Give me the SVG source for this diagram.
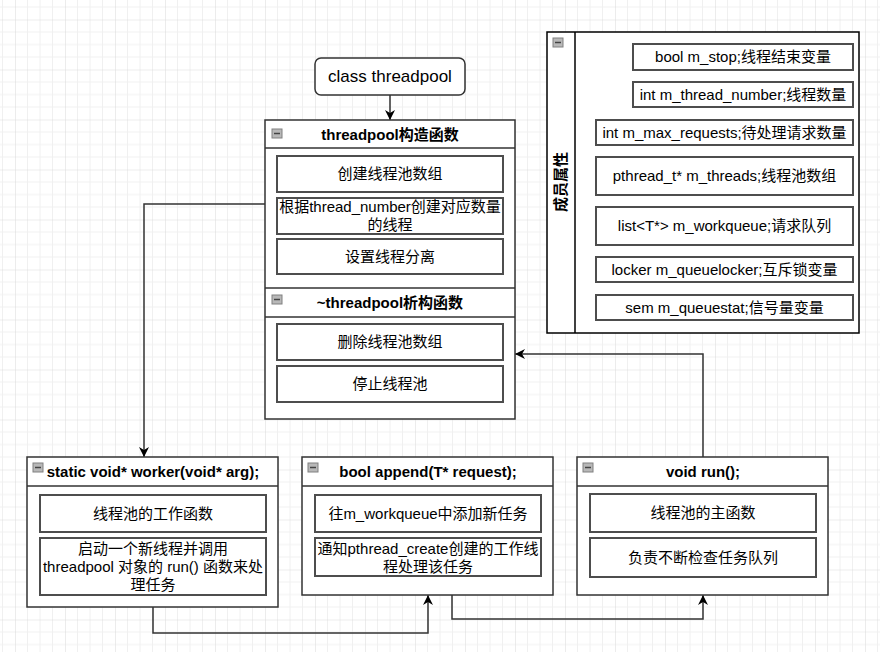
<svg xmlns="http://www.w3.org/2000/svg" width="880" height="652" viewBox="0 0 880 652">
<defs>
<pattern id="grid" patternUnits="userSpaceOnUse" x="15" y="19.5" width="50" height="50">
<path d="M12.5 0V50M25 0V50M37.5 0V50M0 12.5H50M0 25H50M0 37.5H50" stroke="#f0f0f0" stroke-width="1" fill="none"/>
<path d="M0 0V50M0 0H50" stroke="#d9d9d9" stroke-width="1" fill="none"/>
</pattern>
<marker id="arr" viewBox="0 0 10 10" refX="9.5" refY="5" markerWidth="10" markerHeight="10" markerUnits="userSpaceOnUse" orient="auto">
<path d="M0 0L10 5L0 10L3 5Z" fill="#000"/>
</marker>
<g id="minus">
<rect x="0" y="0" width="10" height="9" fill="#b8b8b8" stroke="#808080" stroke-width="1"/>
<line x1="2" y1="4.5" x2="8" y2="4.5" stroke="#444" stroke-width="1.5"/>
</g>
</defs>
<style>
.outer{fill:#fff;stroke:#333;stroke-width:1.5}
.inner{fill:#fff;stroke:#4d4d4d;stroke-width:2}
.sep{stroke:#333;stroke-width:1.5}
.t{font-family:"Liberation Sans","Noto Sans CJK SC",sans-serif;font-size:15px;fill:#000;text-anchor:middle}
.h{font-family:"Liberation Sans","Noto Sans CJK SC",sans-serif;font-size:15px;font-weight:bold;fill:#000;text-anchor:middle}
.conn{fill:none;stroke:#333;stroke-width:1.5}
</style>
<rect width="880" height="652" fill="#fff"/>
<rect width="880" height="652" fill="url(#grid)"/>

<g id="class-threadpool">
<rect x="315" y="58" width="150" height="37" rx="6" fill="#fff" stroke="#333" stroke-width="1.5"/>
<text x="390" y="82" class="t" style="font-size:17px">class threadpool</text>
</g>

<g id="constructor">
<rect class="outer" x="265" y="120" width="250" height="299"/>
<line class="sep" x1="265" y1="148" x2="515" y2="148"/>
<use href="#minus" x="272" y="129"/>
<text x="390" y="139.5" class="h">threadpool构造函数</text>
<rect class="inner" x="277" y="156" width="226" height="36"/>
<text x="390" y="179" class="t">创建线程池数组</text>
<rect class="inner" x="277" y="198" width="226" height="36"/>
<text x="390" y="212" class="t">根据thread_number创建对应数量</text>
<text x="390" y="229.5" class="t">的线程</text>
<rect class="inner" x="277" y="239" width="226" height="35"/>
<text x="390" y="261.5" class="t">设置线程分离</text>
</g>

<g id="destructor">
<line class="sep" x1="265" y1="288" x2="515" y2="288"/>
<line class="sep" x1="265" y1="317" x2="515" y2="317"/>
<use href="#minus" x="272" y="295"/>
<text x="390" y="307.5" class="h">~threadpool析构函数</text>
<rect class="inner" x="277" y="324" width="226" height="36"/>
<text x="390" y="347" class="t">删除线程池数组</text>
<rect class="inner" x="277" y="366" width="226" height="36"/>
<text x="390" y="389" class="t">停止线程池</text>
</g>

<g id="members">
<rect x="547" y="32" width="312" height="301" fill="#fff" stroke="#000" stroke-width="1.5"/>
<line x1="575" y1="32" x2="575" y2="333" stroke="#000" stroke-width="1.5"/>
<use href="#minus" x="553" y="38"/>
<text x="0" y="0" class="h" transform="translate(566 182) rotate(-90)">成员属性</text>
<rect class="inner" x="633" y="44" width="220" height="26"/>
<text x="743" y="62" class="t">bool m_stop;线程结束变量</text>
<rect class="inner" x="633" y="82" width="220" height="25"/>
<text x="743" y="99.5" class="t">int m_thread_number;线程数量</text>
<rect class="inner" x="596" y="120" width="257" height="25"/>
<text x="724.5" y="137.5" class="t">int m_max_requests;待处理请求数量</text>
<rect class="inner" x="596" y="157" width="257" height="38"/>
<text x="724.5" y="181" class="t">pthread_t* m_threads;线程池数组</text>
<rect class="inner" x="596" y="207" width="257" height="38"/>
<text x="724.5" y="231" class="t">list&lt;T*&gt; m_workqueue;请求队列</text>
<rect class="inner" x="596" y="257" width="257" height="25"/>
<text x="724.5" y="274.5" class="t">locker m_queuelocker;互斥锁变量</text>
<rect class="inner" x="596" y="295" width="257" height="25"/>
<text x="724.5" y="312.5" class="t">sem m_queuestat;信号量变量</text>
</g>

<g id="worker">
<rect class="outer" x="27" y="457" width="251" height="150"/>
<line class="sep" x1="27" y1="486" x2="278" y2="486"/>
<use href="#minus" x="33" y="463"/>
<text x="153" y="477" class="h">static void* worker(void* arg);</text>
<rect class="inner" x="40" y="495" width="226" height="37"/>
<text x="153" y="518.5" class="t">线程池的工作函数</text>
<rect class="inner" x="40" y="538" width="226" height="57"/>
<text x="153" y="554" class="t">启动一个新线程并调用</text>
<text x="153" y="572" class="t">threadpool 对象的 run() 函数来处</text>
<text x="153" y="590" class="t">理任务</text>
</g>

<g id="append">
<rect class="outer" x="302" y="457" width="251" height="138"/>
<line class="sep" x1="302" y1="486" x2="553" y2="486"/>
<use href="#minus" x="308" y="463"/>
<text x="428" y="477" class="h">bool append(T* request);</text>
<rect class="inner" x="315" y="495" width="226" height="37"/>
<text x="428" y="518.5" class="t">往m_workqueue中添加新任务</text>
<rect class="inner" x="315" y="538" width="226" height="38"/>
<text x="428" y="553.5" class="t">通知pthread_create创建的工作线</text>
<text x="428" y="571.5" class="t">程处理该任务</text>
</g>

<g id="run">
<rect class="outer" x="577" y="457" width="251" height="138"/>
<line class="sep" x1="577" y1="486" x2="828" y2="486"/>
<use href="#minus" x="583" y="463"/>
<text x="703" y="477" class="h">void run();</text>
<rect class="inner" x="590" y="494" width="226" height="38"/>
<text x="703" y="518" class="t">线程池的主函数</text>
<rect class="inner" x="590" y="538" width="226" height="39"/>
<text x="703" y="562.5" class="t">负责不断检查任务队列</text>
</g>

<g id="connectors">
<path class="conn" d="M390 95V119.5" marker-end="url(#arr)"/>
<path class="conn" d="M265 204H144V456.5" marker-end="url(#arr)"/>
<path class="conn" d="M703 457V354H515.5" marker-end="url(#arr)"/>
<path class="conn" d="M153 607V633H428V595.5" marker-end="url(#arr)"/>
<path class="conn" d="M452 595V619H703V595.5" marker-end="url(#arr)"/>
</g>
</svg>
